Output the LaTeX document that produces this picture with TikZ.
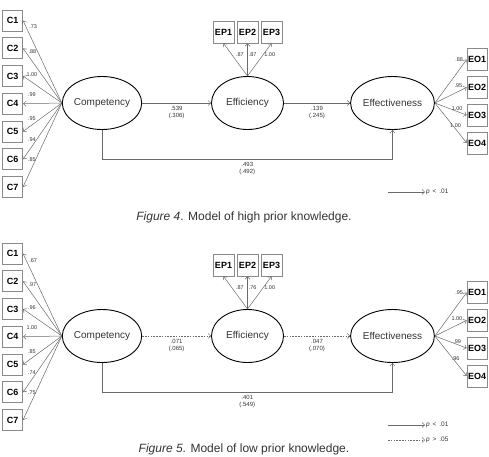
\documentclass[tikz,border=0pt]{standalone}
\usepackage{fontspec}
\setmainfont{Liberation Sans}
\usetikzlibrary{arrows.meta,positioning,calc,shapes.geometric}
\definecolor{lineg}{HTML}{6A6A6A}
\definecolor{boxg}{HTML}{8A8A8A}
\definecolor{txtg}{HTML}{333333}

\begin{document}
\begin{tikzpicture}[x=1pt, y=-1pt,
	arr/.style={-{Straight Barb[length=2.6pt, width=5pt]}, draw=lineg, line width=0.5pt},
	nsarr/.style={arr, dash pattern=on 1.6pt off 1.2pt},
	latent/.style={draw, ellipse, line width=0.9pt, minimum width=72pt, minimum height=53pt, inner sep=0pt, font=\fontsize{10}{12}\selectfont, text=txtg},
	ind/.style={draw=boxg, line width=0.6pt, minimum width=20pt, minimum height=21pt, inner sep=0pt, font=\bfseries\fontsize{9}{10}\selectfont},
	lab/.style={font=\fontsize{5.5}{6}\selectfont, text=txtg, inner sep=1pt},
	coef/.style={lab, align=center, font=\fontsize{6}{7}\selectfont},
	sig/.style={lab, anchor=west, font=\fontsize{6.5}{7}\selectfont},
	capt/.style={font=\fontsize{12}{14}\selectfont, text=txtg, anchor=base}]
	\path[use as bounding box] (0,0) rectangle (489,456);
	% Figure 4: high prior knowledge
	\node[latent] (comA) at (102,103) {Competency};
	\node[latent] (effA) at (247.5,103) {Efficiency};
	\node[latent] (eteA) at (392.5,103) {Effectiveness};
	\foreach \i/\v/\p/\a/\dx/\dy in {1/.73/0.92/west/2/0,2/.88/0.94/west/2/0,3/1.00/0.77/south/0/4.5,4/.99/0.77/south/0/5.5,5/.95/0.77/south/0/3.5,6/.94/0.77/south/0/4,7/.85/0.77/south/0/5}{
		\node[ind] (cA\i) at (12.7,{20.5+(\i-1)*27.75}) {C\i};
		\draw[arr] (comA.west) -- (cA\i.east) node[lab, pos=\p, anchor=\a, xshift=\dx pt, yshift=\dy pt] {\v};}
	\foreach \i/\v/\dx in {1/.87/3,2/.87/0,3/1.00/0}{
		\node[ind, minimum width=21pt, minimum height=22pt] (epA\i) at ({199.5+\i*24},32) {EP\i};
		\draw[arr] (effA.north) -- (epA\i.south) node[lab, pos=0.65, anchor=west, xshift=\dx pt] {\v};}
	\foreach \i/\v/\p/\a in {1/.88/0.92/south east,2/.95/0.9/south east,3/1.00/0.7/south,4/1.00/0.65/south}{
		\node[ind, minimum height=22pt] (eoA\i) at (477,{31.7+\i*27.8}) {EO\i};
		\draw[arr] (eteA.east) -- (eoA\i.west) node[lab, pos=\p, anchor=\a] {\v};}
	\draw[arr] (comA) -- (effA) node[coef, midway, below=2.5pt] {.539\\(.306)};
	\draw[arr] (effA) -- (eteA) node[coef, midway, below=2.5pt] {.139\\(.245)};
	\draw[arr] (comA.south) -- ++(0,29) -| (eteA.south) node[coef, pos=0.25, below=2.5pt] {.493\\(.492)};
	\coordinate (lgA) at (388,192);
	\node[sig] (lgAt) at (425,192) {\textit{p}\, <\, .01};
	\draw[arr] (lgA) -- (lgAt.west);
	\node[capt] (capA) at (244,220.7) {\textit{Figure 4}. Model of high prior knowledge.};
	% Figure 5: low prior knowledge
	\begin{scope}[shift={(0,233)}]
		\node[latent] (comB) at (102,103) {Competency};
		\node[latent] (effB) at (247.5,103) {Efficiency};
		\node[latent] (eteB) at (392.5,103) {Effectiveness};
		\foreach \i/\v/\p/\a/\dx/\dy in {1/.67/0.92/west/2/0,2/.97/0.94/west/2/0,3/.96/0.77/south/0/4.5,4/1.00/0.77/south/0/5.5,5/.85/0.77/south/0/3.5,6/.74/0.77/south/0/4,7/.75/0.77/south/0/5}{
			\node[ind] (cB\i) at (12.7,{20.5+(\i-1)*27.75}) {C\i};
			\draw[arr] (comB.west) -- (cB\i.east) node[lab, pos=\p, anchor=\a, xshift=\dx pt, yshift=\dy pt] {\v};}
		\foreach \i/\v/\dx in {1/.87/3,2/.76/0,3/1.00/0}{
			\node[ind, minimum width=21pt, minimum height=22pt] (epB\i) at ({199.5+\i*24},32) {EP\i};
			\draw[arr] (effB.north) -- (epB\i.south) node[lab, pos=0.65, anchor=west, xshift=\dx pt] {\v};}
		\foreach \i/\v/\p/\a in {1/.95/0.92/south east,2/1.00/0.9/south east,3/.99/0.7/south,4/.96/0.65/south}{
			\node[ind, minimum height=22pt] (eoB\i) at (477,{31.7+\i*27.8}) {EO\i};
			\draw[arr] (eteB.east) -- (eoB\i.west) node[lab, pos=\p, anchor=\a] {\v};}
		\draw[nsarr] (comB) -- (effB) node[coef, midway, below=2.5pt] {.071\\(.065)};
		\draw[nsarr] (effB) -- (eteB) node[coef, midway, below=2.5pt] {.047\\(.070)};
		\draw[arr] (comB.south) -- ++(0,29) -| (eteB.south) node[coef, pos=0.25, below=2.5pt] {.401\\(.549)};
		\coordinate (lgB1) at (388,192);
		\node[sig] (lgB1t) at (425,192) {\textit{p}\, <\, .01};
		\draw[arr] (lgB1) -- (lgB1t.west);
		\coordinate (lgB2) at (388,207);
		\node[sig] (lgB2t) at (425,207) {\textit{p}\, >\, .05};
		\draw[nsarr] (lgB2) -- (lgB2t.west);
		\node[capt] (capB) at (244,219.3) {\textit{Figure 5}. Model of low prior knowledge.};
	\end{scope}
\end{tikzpicture}
\end{document}
